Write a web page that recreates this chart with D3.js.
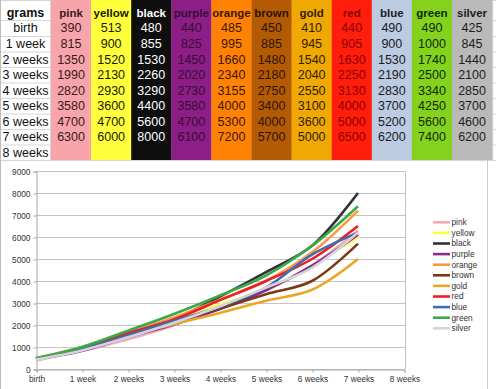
<!DOCTYPE html>
<html><head><meta charset="utf-8">
<script src="https://cdn.jsdelivr.net/npm/d3@7"></script>
<style>html,body{margin:0;padding:0;background:#fff;}svg{display:block;}</style>
</head><body>
<script>
// ---- data ----
const rowLabels = ["birth","1 week","2 weeks","3 weeks","4 weeks","5 weeks","6 weeks","7 weeks","8 weeks"];
const seriesNames = ["pink","yellow","black","purple","orange","brown","gold","red","blue","green","silver"];
const pink   = [390, 815, 1350, 1990, 2820, 3580, 4700, 6300];
const yellow = [513, 900, 1520, 2130, 2930, 3600, 4700, 6000];
const black  = [480, 855, 1530, 2260, 3290, 4400, 5600, 8000];
const purple = [440, 825, 1450, 2020, 2730, 3580, 4700, 6100];
const orange = [485, 995, 1660, 2340, 3155, 4000, 5300, 7200];
const brown  = [450, 885, 1480, 2180, 2750, 3400, 4000, 5700];
const gold   = [410, 945, 1540, 2040, 2550, 3100, 3600, 5000];
const red    = [440, 905, 1630, 2250, 3130, 4000, 5000, 6500];
const blue   = [490, 900, 1530, 2190, 2830, 3700, 5200, 6200];
const green  = [490, 1000, 1740, 2500, 3340, 4250, 5600, 7400];
const silver = [425, 845, 1440, 2100, 2850, 3700, 4600, 6200];
const yTicks = [0,1000,2000,3000,4000,5000,6000,7000,8000,9000];

const seriesValues = [pink,yellow,black,purple,orange,brown,gold,red,blue,green,silver];

// ---- styles ----
const cellBg   = ["#f8a4ab","#ffff3c","#0e0e0e","#8b1f85","#ff8205","#b35a04","#f0a804","#ff1e0c","#bccbe0","#84d21e","#b9b9b9"];
const cellText = ["#3a1a1a","#1a1a00","#ffffff","#3a0a38","#3a1800","#2e1400","#2e1e00","#8c0000","#1a1a2a","#0e2a00","#1e1e1e"];
const lineCol  = ["#f6aab4","#ffff3a","#333333","#8c2a8c","#f79a42","#7a3a14","#e9a726","#ee1c24","#3e6db0","#3aaa48","#d4d4dc"];
const FONT = "Liberation Sans, Arial, sans-serif";

const W = 496, H = 389;
const svg = d3.select("body").append("svg").attr("width", W).attr("height", H);

// ---- table ----
const tx0 = 51, colW = 40.1;
// row r = 0 (birth) .. 8 (8 weeks)
const rowTop = r => r === 0 ? 20 : 36 + (r-1)*15.5;
const rowMid = r => r === 0 ? 28 : rowTop(r) + 8;
const tableBottom = 160;
const gridC = "#d6d6d6";

const tbl = svg.append("g");
[0,20].concat(d3.range(1,10).map(r => 36 + (r-1)*15.5)).forEach(yy => {
  tbl.append("line").attr("x1",0).attr("x2",W).attr("y1",yy+0.5).attr("y2",yy+0.5).attr("stroke",gridC);
});
tbl.append("line").attr("x1",0.5).attr("x2",0.5).attr("y1",0).attr("y2",H).attr("stroke","#bbb");
tbl.append("line").attr("x1",tx0-0.5).attr("x2",tx0-0.5).attr("y1",0).attr("y2",tableBottom).attr("stroke",gridC);
tbl.append("line").attr("x1",tx0+11*colW+0.5).attr("x2",tx0+11*colW+0.5).attr("y1",0).attr("y2",tableBottom).attr("stroke",gridC);

seriesNames.forEach((name, c) => {
  const xx = tx0 + c*colW;
  tbl.append("rect").attr("x", xx).attr("y", 0).attr("width", colW+0.3).attr("height", tableBottom).attr("fill", cellBg[c]);
  tbl.append("text").attr("x", xx + colW/2).attr("y", 12.7).attr("dy","0.35em")
    .attr("text-anchor","middle").attr("font-family",FONT)
    .attr("font-weight","bold").attr("font-size", 11.5)
    .attr("fill", cellText[c]).text(name);
  seriesValues[c].forEach((v, r) => {
    tbl.append("text").attr("x", xx + colW/2).attr("y", rowMid(r)).attr("dy","0.35em")
      .attr("text-anchor","middle").attr("font-family",FONT)
      .attr("font-size", 12.5).attr("fill", cellText[c]).text(v);
  });
});
tbl.append("text").attr("x", 25.5).attr("y", 12.7).attr("dy","0.35em").attr("text-anchor","middle")
  .attr("font-family",FONT).attr("font-weight","bold").attr("font-size",12.5)
  .attr("fill","#111").text("grams");
rowLabels.forEach((lab, r) => {
  tbl.append("text").attr("x", 25.5).attr("y", rowMid(r)).attr("dy","0.35em").attr("text-anchor","middle")
    .attr("font-family",FONT).attr("font-size",12.5)
    .attr("fill","#111").text(lab);
});

// ---- chart ----
const chart = svg.append("g");
chart.append("rect").attr("x",2).attr("y",161).attr("width",484).attr("height",228).attr("fill","#fff");
chart.append("line").attr("x1",487.5).attr("x2",487.5).attr("y1",160).attr("y2",H).attr("stroke","#ccc");

const x = d3.scalePoint().domain(rowLabels).range([36, 404]).padding(0);
const y = d3.scaleLinear().domain([0, 9000]).range([369, 171]);

chart.append("g").selectAll("line").data(yTicks).join("line")
  .attr("x1", 36).attr("x2", 405).attr("y1", d => Math.round(y(d))+0.5).attr("y2", d => Math.round(y(d))+0.5)
  .attr("stroke", "#c4c4c4").attr("stroke-width", 1);
chart.append("line").attr("x1",405.5).attr("x2",405.5).attr("y1",y(9000)).attr("y2",y(0)).attr("stroke","#c4c4c4");

const yAxis = chart.append("g").attr("transform","translate(36.5,0.5)")
  .call(d3.axisLeft(y).tickValues(yTicks).tickSize(3).tickPadding(3).tickFormat(d3.format("d")));
yAxis.select(".domain").attr("stroke","#a8a8a8");
yAxis.selectAll(".tick line").attr("stroke","#a8a8a8");
yAxis.selectAll("text").attr("font-family",FONT).attr("font-size",8.3).attr("fill","#333");

const xAxis = chart.append("g").attr("transform",`translate(0.5,${Math.round(y(0))+0.5})`)
  .call(d3.axisBottom(x).tickSize(3).tickPadding(4));
xAxis.select(".domain").attr("stroke","#a8a8a8");
xAxis.selectAll(".tick line").attr("stroke","#a8a8a8");
xAxis.selectAll("text").attr("font-family",FONT).attr("font-size",8.3).attr("fill","#333");

const line = d3.line().x((d,i) => x(rowLabels[i])).y(d => y(d)).curve(d3.curveCatmullRom.alpha(0.5));
seriesValues.forEach((vals, s) => {
  chart.append("path").attr("d", line(vals)).attr("fill","none")
    .attr("stroke", lineCol[s]).attr("stroke-width", 2.6).attr("stroke-linejoin","round");
});

const leg = chart.append("g");
seriesNames.forEach((name, s) => {
  const ly = 222.3 + s*10.6;
  leg.append("line").attr("x1",433).attr("x2",450).attr("y1",ly).attr("y2",ly)
    .attr("stroke", lineCol[s]).attr("stroke-width", 2.6);
  leg.append("text").attr("x",451.5).attr("y",ly).attr("dy","0.35em")
    .attr("font-family",FONT).attr("font-size",8.3).attr("fill","#333").text(name);
});
</script>
</body></html>
